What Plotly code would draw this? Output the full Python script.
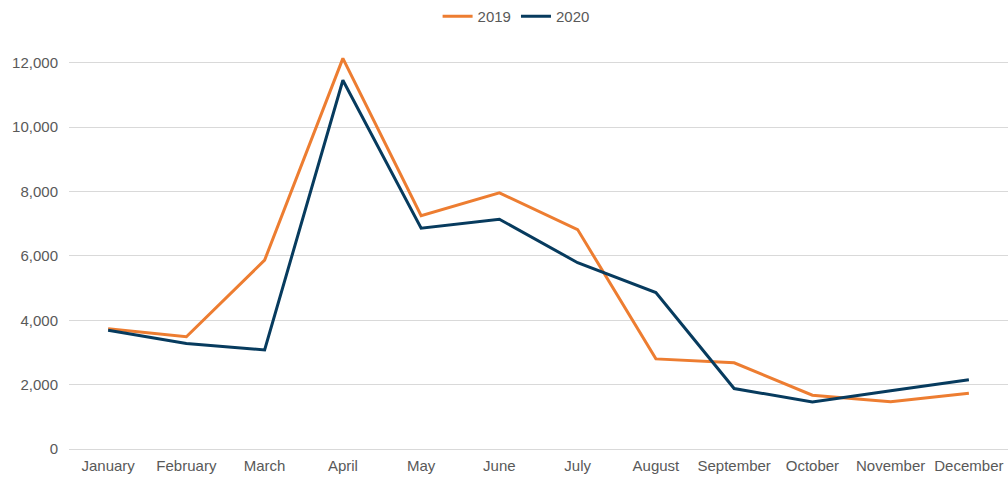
import plotly.graph_objects as go

months = ["January", "February", "March", "April", "May", "June", "July",
          "August", "September", "October", "November", "December"]
y2019 = [3740, 3490, 5870, 12140, 7250, 7960, 6820, 2800, 2680, 1670, 1470, 1730]
y2020 = [3690, 3280, 3080, 11460, 6860, 7140, 5790, 4860, 1880, 1460, 1810, 2150]

fig = go.Figure()
fig.add_trace(go.Scatter(x=months, y=y2019, mode="lines", name="2019",
                         line=dict(color="#ED7D31", width=3)))
fig.add_trace(go.Scatter(x=months, y=y2020, mode="lines", name="2020",
                         line=dict(color="#073B5E", width=3)))

fig.update_layout(
    width=1008, height=478,
    margin=dict(l=69, r=0, t=50, b=29),
    paper_bgcolor="white", plot_bgcolor="white",
    font=dict(family="Liberation Sans, Arial, sans-serif", size=15, color="#595959"),
    legend=dict(orientation="h", xref="container", x=0.512, xanchor="center",
                yref="container", y=1.0, yanchor="top",
                font=dict(size=15, color="#595959"), itemwidth=30),
    showlegend=True,
)
fig.update_xaxes(type="category", range=[-0.5, 11.5], showgrid=False,
                 showline=True, linecolor="#D9D9D9", linewidth=1, ticks="",
                 ticklabelstandoff=3,
                 tickfont=dict(size=15, color="#595959"), fixedrange=True)
fig.update_yaxes(range=[0, 12400], tickvals=[0, 2000, 4000, 6000, 8000, 10000, 12000],
                 tickformat=",d", showgrid=True, gridcolor="#D9D9D9", gridwidth=1,
                 zeroline=False, showline=False, ticks="", ticklabelstandoff=10,
                 tickfont=dict(size=15, color="#595959"))

fig.write_html("out.html", config={"displayModeBar": False},
               post_script="document.body.style.margin='0';")
